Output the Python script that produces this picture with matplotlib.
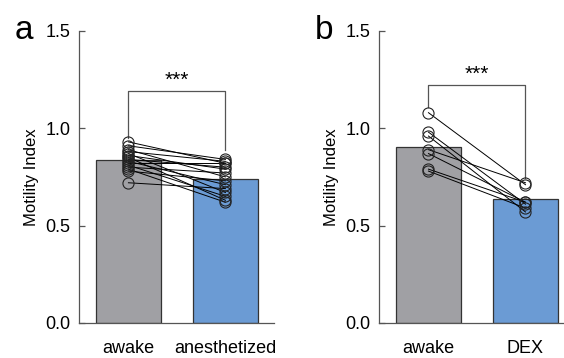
import matplotlib
matplotlib.use("Agg")
import matplotlib.pyplot as plt

plt.rcParams["font.family"] = ["Liberation Sans", "DejaVu Sans"]

# panel a: awake vs anesthetized
a_labels = ["awake", "anesthetized"]
a_means = [0.836, 0.740]
a_awake = [0.93, 0.91, 0.89, 0.88, 0.87, 0.86, 0.85, 0.84, 0.83, 0.82, 0.81, 0.80, 0.79, 0.78, 0.72]
a_anest = [0.82, 0.84, 0.75, 0.83, 0.67, 0.79, 0.63, 0.80, 0.71, 0.82, 0.65, 0.77, 0.62, 0.73, 0.69]

# panel b: awake vs DEX
b_labels = ["awake", "DEX"]
b_means = [0.905, 0.635]
b_awake = [1.08, 0.98, 0.96, 0.89, 0.87, 0.79, 0.78]
b_dex = [0.71, 0.61, 0.57, 0.72, 0.62, 0.62, 0.59]

GRAY = "#a0a0a4"
BLUE = "#6b9bd4"
AXC = "#555555"


def panel(ax, labels, means, pre, post, bracket, letter):
    ax.bar([0, 1], means, width=0.67, color=[GRAY, BLUE], edgecolor="#333333", linewidth=0.9, zorder=1)
    for y0, y1 in zip(pre, post):
        ax.plot([0, 1], [y0, y1], color="black", lw=0.7, zorder=2)
    ax.plot([0] * len(pre), pre, "o", ms=8, mfc="none", mec="#222222", mew=0.8, zorder=3)
    ax.plot([1] * len(post), post, "o", ms=8, mfc="none", mec="#222222", mew=0.8, zorder=3)

    top, l_end, r_end = bracket
    ax.plot([0, 0, 1, 1], [l_end, top, top, r_end], color=AXC, lw=0.9, zorder=2)
    ax.text(0.5, top + 0.01, "***", ha="center", va="bottom", fontsize=15)

    ax.set_xlim(-0.51, 1.5)
    ax.set_ylim(0, 1.5)
    ax.set_yticks([0, 0.5, 1.0, 1.5])
    ax.set_yticklabels(["0.0", "0.5", "1.0", "1.5"])
    ax.set_xticks([0, 1])
    ax.set_xticklabels(labels)
    ax.tick_params(axis="y", direction="in", length=4, width=0.9, color=AXC, labelsize=13, pad=6)
    ax.tick_params(axis="x", length=0, labelsize=13, pad=12)
    for s in ["top", "right"]:
        ax.spines[s].set_visible(False)
    for s in ["left", "bottom"]:
        ax.spines[s].set_color(AXC)
        ax.spines[s].set_linewidth(0.9)
    ax.set_ylabel("Motility Index", fontsize=12, labelpad=5)
    ax.text(-0.33, 1.0, letter, transform=ax.transAxes, fontsize=24, va="center", ha="left")


fig = plt.figure(figsize=(5.64, 3.58), dpi=100)
ax1 = fig.add_axes([0.140, 0.098, 0.3457, 0.8156])
ax2 = fig.add_axes([0.672, 0.098, 0.3457, 0.8156])

panel(ax1, a_labels, a_means, a_awake, a_anest, (1.19, 0.95, 0.89), "a")
panel(ax2, b_labels, b_means, b_awake, b_dex, (1.22, 1.11, 0.745), "b")

fig.savefig("out.png", dpi=100)
